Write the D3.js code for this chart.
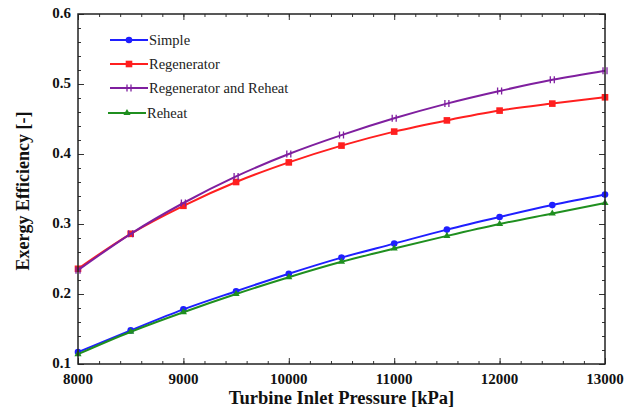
<!DOCTYPE html>
<html>
<head>
<meta charset="utf-8">
<script src="https://cdn.jsdelivr.net/npm/d3@7/dist/d3.min.js"></script>
<style>
  body { margin: 0; background: #fff; }
  svg text { font-family: "Liberation Serif", "Times New Roman", serif; }
</style>
</head>
<body>
<svg id="chart" width="637" height="410"></svg>
<script>
// Turbine inlet pressure [kPa]
const pressure = [8000, 8500, 9000, 9500, 10000, 10500, 11000, 11500, 12000, 12500, 13000];

// Exergy efficiency of each cycle configuration
const simple       = [0.117, 0.148, 0.178, 0.204, 0.229, 0.252, 0.272, 0.292, 0.310, 0.327, 0.342];
const regenerator  = [0.236, 0.286, 0.326, 0.360, 0.388, 0.412, 0.432, 0.448, 0.462, 0.472, 0.481];
const regenReheat  = [0.234, 0.286, 0.330, 0.368, 0.400, 0.427, 0.451, 0.472, 0.490, 0.506, 0.519];
const reheat       = [0.114, 0.146, 0.174, 0.200, 0.224, 0.246, 0.265, 0.283, 0.300, 0.315, 0.330];

const seriesNames  = ["Simple", "Regenerator", "Regenerator and Reheat", "Reheat"];
const seriesColors = ["#1f1fff", "#ff1f1f", "#7f1f9f", "#1f8f1f"];
const seriesMarks  = ["circle", "square", "bar", "triangle"];

const xTicks = [8000, 9000, 10000, 11000, 12000, 13000];
const yTicks = [0.1, 0.2, 0.3, 0.4, 0.5, 0.6];

const series = [simple, regenerator, regenReheat, reheat];

const svg = d3.select("#chart");
const m = { left: 78, right: 605, top: 14, bottom: 364 };

const x = d3.scaleLinear().domain([8000, 13000]).range([m.left, m.right]);
const y = d3.scaleLinear().domain([0.1, 0.6]).range([m.bottom, m.top]);

// Axes with inward ticks on all four sides
const minorX = d3.range(8000, 13001, 200);
const minorY = d3.range(0.1, 0.6001, 0.02);

function tickAxis(axis, scale, vals, size) {
  return axis(scale).tickValues(vals).tickSize(size).tickFormat("");
}

const gB = svg.append("g").attr("transform", `translate(0,${m.bottom})`);
gB.call(tickAxis(d3.axisTop, x, minorX, 3));
gB.append("g").call(d3.axisTop(x).tickValues(xTicks).tickSize(6).tickFormat(""));
const gT = svg.append("g").attr("transform", `translate(0,${m.top})`);
gT.call(tickAxis(d3.axisBottom, x, minorX, 3));
gT.append("g").call(d3.axisBottom(x).tickValues(xTicks).tickSize(6).tickFormat(""));
const gL = svg.append("g").attr("transform", `translate(${m.left},0)`);
gL.call(tickAxis(d3.axisRight, y, minorY, 3));
gL.append("g").call(d3.axisRight(y).tickValues(yTicks).tickSize(6).tickFormat(""));
const gR = svg.append("g").attr("transform", `translate(${m.right},0)`);
gR.call(tickAxis(d3.axisLeft, y, minorY, 3));
gR.append("g").call(d3.axisLeft(y).tickValues(yTicks).tickSize(6).tickFormat(""));

svg.selectAll(".domain").remove();
svg.selectAll(".tick line").attr("stroke", "#333").attr("stroke-width", 1);

// Tick labels
svg.append("g").selectAll("text").data(xTicks).join("text")
  .attr("x", d => x(d)).attr("y", m.bottom + 20)
  .attr("text-anchor", "middle")
  .attr("font-size", 15).attr("font-weight", "bold")
  .attr("fill", "#111")
  .text(d => d);

svg.append("g").selectAll("text").data(yTicks).join("text")
  .attr("x", m.left - 7).attr("y", d => y(d) + 3.5)
  .attr("text-anchor", "end")
  .attr("font-size", 15).attr("font-weight", "bold")
  .attr("fill", "#111")
  .text(d => d3.format(".1f")(d));

// Axis titles
svg.append("text")
  .attr("x", (m.left + m.right) / 2).attr("y", 404)
  .attr("text-anchor", "middle")
  .attr("font-size", 18.5).attr("font-weight", "bold")
  .attr("fill", "#111")
  .text("Turbine Inlet Pressure [kPa]");

svg.append("text")
  .attr("transform", `translate(29,${(m.top + m.bottom) / 2 + 2}) rotate(-90)`)
  .attr("text-anchor", "middle")
  .attr("font-size", 18).attr("font-weight", "bold")
  .attr("fill", "#111")
  .text("Exergy Efficiency [-]");

// Curves
const line = d3.line()
  .x((d, i) => x(pressure[i]))
  .y(d => y(d))
  .curve(d3.curveMonotoneX);

function drawMarker(g, kind, color) {
  if (kind === "circle") {
    g.append("circle").attr("r", 3.3).attr("fill", color);
  } else if (kind === "square") {
    g.append("rect").attr("x", -3.3).attr("y", -3.3).attr("width", 6.6).attr("height", 6.6).attr("fill", color);
  } else if (kind === "bar") {
    g.append("path").attr("d", "M-2,-3.5V3.5M2,-3.5V3.5")
      .attr("stroke", color).attr("stroke-width", 1.3).attr("fill", "none");
  } else if (kind === "triangle") {
    g.append("path").attr("d", d3.symbol(d3.symbolTriangle, 22)()).attr("fill", color);
  }
}

series.forEach((vals, k) => {
  const color = seriesColors[k];
  svg.append("path")
    .datum(vals)
    .attr("d", line)
    .attr("fill", "none")
    .attr("stroke", color)
    .attr("stroke-width", 2);
  vals.forEach((v, i) => {
    const g = svg.append("g").attr("transform", `translate(${x(pressure[i])},${y(v)})`);
    drawMarker(g, seriesMarks[k], color);
  });
});

// Plot frame
svg.append("rect")
  .attr("x", m.left).attr("y", m.top)
  .attr("width", m.right - m.left).attr("height", m.bottom - m.top)
  .attr("fill", "none").attr("stroke", "#222").attr("stroke-width", 1.5);

// Legend
const legendY = [40, 64, 88, 113];
seriesNames.forEach((name, k) => {
  const color = seriesColors[k];
  const x0 = k === 3 ? 108 : 110;
  const x1 = k === 3 ? 146 : 148;
  const g = svg.append("g");
  g.append("line")
    .attr("x1", x0).attr("x2", x1)
    .attr("y1", legendY[k]).attr("y2", legendY[k])
    .attr("stroke", color).attr("stroke-width", 2);
  const mk = g.append("g").attr("transform", `translate(${(x0 + x1) / 2},${legendY[k]})`);
  drawMarker(mk, seriesMarks[k], color);
  g.append("text")
    .attr("x", x1 + 1).attr("y", legendY[k] + 5)
    .attr("font-size", 14.5)
    .attr("fill", "#222")
    .text(name);
});
</script>
</body>
</html>
